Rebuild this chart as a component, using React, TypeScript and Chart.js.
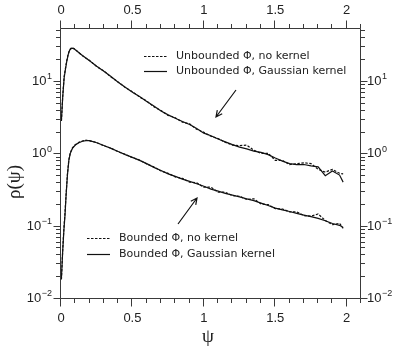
import React, { useEffect, useRef } from "react";
import { Chart, registerables } from "chart.js";
Chart.register(...registerables);

// ---- data ----
const xUnb = [0.003, 0.012, 0.022, 0.03, 0.04, 0.05, 0.06, 0.075, 0.09, 0.1, 0.15, 0.2, 0.25, 0.3, 0.35, 0.4, 0.45, 0.5, 0.55, 0.6, 0.65, 0.7, 0.75, 0.8, 0.85, 0.9, 0.95, 1.0, 1.05, 1.1, 1.15, 1.2, 1.25, 1.3, 1.35, 1.4, 1.45, 1.5, 1.55, 1.6, 1.65, 1.7, 1.75, 1.8, 1.85, 1.9, 1.95, 1.975];
const unbGauss = [2.9, 6, 11, 14, 18.5, 23, 26.5, 28.5, 28, 27, 22.5, 19, 16, 13.6, 11.5, 9.6, 8.2, 7.0, 6.1, 5.2, 4.5, 3.85, 3.4, 3.05, 2.75, 2.5, 2.2, 1.9, 1.75, 1.58, 1.44, 1.32, 1.22, 1.15, 1.07, 1.03, 0.96, 0.86, 0.78, 0.72, 0.7, 0.7, 0.67, 0.65, 0.49, 0.57, 0.5, 0.4];
const unbNoKernel = [2.8, 6.2, 11.5, 14.5, 19, 23.5, 27, 29, 28, 27.2, 22.3, 19.2, 15.8, 13.8, 11.3, 9.7, 8.1, 7.1, 6.0, 5.3, 4.4, 3.9, 3.35, 3.1, 2.7, 2.55, 2.15, 1.95, 1.72, 1.6, 1.42, 1.3, 1.28, 1.3, 1.1, 1.0, 1.0, 0.8, 0.8, 0.7, 0.72, 0.74, 0.72, 0.6, 0.55, 0.6, 0.53, 0.52];

const xBnd = [0.003, 0.012, 0.02, 0.028, 0.035, 0.045, 0.055, 0.065, 0.08, 0.1, 0.125, 0.15, 0.175, 0.2, 0.25, 0.3, 0.35, 0.4, 0.45, 0.5, 0.55, 0.6, 0.65, 0.7, 0.75, 0.8, 0.85, 0.9, 0.95, 1.0, 1.05, 1.1, 1.15, 1.2, 1.25, 1.3, 1.35, 1.4, 1.45, 1.5, 1.55, 1.6, 1.65, 1.7, 1.75, 1.8, 1.85, 1.9, 1.95, 1.975];
const bndGauss = [0.019, 0.045, 0.085, 0.14, 0.25, 0.5, 0.8, 1.0, 1.17, 1.3, 1.4, 1.47, 1.5, 1.5, 1.4, 1.28, 1.17, 1.06, 0.96, 0.88, 0.8, 0.72, 0.64, 0.58, 0.52, 0.48, 0.44, 0.41, 0.38, 0.35, 0.32, 0.3, 0.28, 0.265, 0.25, 0.235, 0.222, 0.205, 0.19, 0.175, 0.165, 0.157, 0.148, 0.14, 0.133, 0.126, 0.117, 0.107, 0.101, 0.094];
const bndNoKernel = [0.018, 0.047, 0.09, 0.15, 0.26, 0.52, 0.82, 1.02, 1.19, 1.32, 1.42, 1.48, 1.52, 1.49, 1.41, 1.27, 1.18, 1.05, 0.97, 0.87, 0.81, 0.71, 0.65, 0.57, 0.53, 0.47, 0.45, 0.4, 0.39, 0.34, 0.34, 0.29, 0.29, 0.26, 0.255, 0.23, 0.235, 0.2, 0.195, 0.172, 0.17, 0.155, 0.155, 0.138, 0.135, 0.145, 0.118, 0.103, 0.108, 0.092];

const xTickValues = [0, 0.5, 1, 1.5, 2];
const xTickLabels = ["0", "0.5", "1", "1.5", "2"];
const yDecades = [-2, -1, 0, 1];
const yExpLabels = ["\u22122", "\u22121", "0", "1"];
const legendUnb = ["Unbounded \u03A6, no kernel", "Unbounded \u03A6, Gaussian kernel"];
const legendBnd = ["Bounded \u03A6, no kernel", "Bounded \u03A6, Gaussian kernel"];

const X_MIN = 0, X_MAX = 2.1, Y_MIN = 0.01, Y_MAX = 54;

function pts(xs: number[], ys: number[]) {
  return xs.map((x, i) => ({ x, y: ys[i] }));
}

const LABEL_FONT = "'Liberation Sans', Arial, sans-serif";
const LEG_FONT = "'DejaVu Sans', sans-serif";
const SERIF = "'Liberation Serif', 'DejaVu Serif', serif";

const framePlugin = {
  id: "frame",
  afterDatasetsDraw(chart: any) {
    const ctx: CanvasRenderingContext2D = chart.ctx;
    const xs = chart.scales.x;
    const ys = chart.scales.y;
    const a = chart.chartArea;
    const L = Math.round(a.left) - 0.5;
    const R = Math.round(a.right) - 0.5;
    const T = Math.round(a.top) + 0.5;
    const B = Math.round(a.bottom) + 0.5;
    ctx.save();
    ctx.strokeStyle = "#3a3a3a";
    ctx.lineWidth = 1;
    ctx.setLineDash([]);
    ctx.beginPath();
    ctx.rect(L, T, R - L, B - T);
    ctx.stroke();

    // x ticks (top & bottom)
    ctx.beginPath();
    for (let i = 0; i <= 21; i++) {
      const v = i / 10;
      const major = i % 5 === 0;
      const len = major ? 8 : 4.5;
      const px = Math.round(xs.getPixelForValue(v)) - 0.5;
      ctx.moveTo(px, B); ctx.lineTo(px, B + len);
      ctx.moveTo(px, T); ctx.lineTo(px, T - len);
    }
    // y ticks (left & right)
    for (const d of yDecades) {
      for (let m = 1; m <= 9; m++) {
        const v = m * Math.pow(10, d);
        if (v < Y_MIN - 1e-12 || v > Y_MAX) continue;
        const major = m === 1;
        const len = major ? 7 : 4.5;
        const py = Math.round(ys.getPixelForValue(v)) + 0.5;
        ctx.moveTo(L, py); ctx.lineTo(L - len, py);
        ctx.moveTo(R, py); ctx.lineTo(R + len, py);
      }
    }
    ctx.stroke();

    // x labels
    ctx.fillStyle = "#222";
    ctx.font = `13px ${LABEL_FONT}`;
    ctx.textAlign = "center";
    ctx.textBaseline = "middle";
    xTickValues.forEach((v, i) => {
      const px = xs.getPixelForValue(v);
      ctx.fillText(xTickLabels[i], px, 10.5);
      ctx.fillText(xTickLabels[i], px, 318.5);
    });

    // y labels with superscript
    yDecades.forEach((d, i) => {
      const py = ys.getPixelForValue(Math.pow(10, d));
      ctx.font = `13px ${LABEL_FONT}`;
      const wb = ctx.measureText("10").width;
      ctx.font = `9px ${LABEL_FONT}`;
      const we = ctx.measureText(yExpLabels[i]).width;
      const drawAt = (x0: number) => {
        ctx.textAlign = "left";
        ctx.textBaseline = "middle";
        ctx.font = `13px ${LABEL_FONT}`;
        ctx.fillText("10", x0, py + 0.5);
        ctx.font = `9px ${LABEL_FONT}`;
        ctx.fillText(yExpLabels[i], x0 + wb + 0.5, py - 4);
      };
      drawAt(52 - wb - we - 0.5);
      drawAt(367);
    });

    // axis titles
    ctx.fillStyle = "#222";
    ctx.font = `19px ${SERIF}`;
    ctx.textAlign = "center";
    ctx.textBaseline = "middle";
    ctx.fillText("\u03C8", (a.left + a.right) / 2 - 3, 337);
    ctx.save();
    ctx.translate(15, 182);
    ctx.rotate(-Math.PI / 2);
    ctx.fillText("\u03C1(\u03C8)", 0, 0);
    ctx.restore();

    // legends
    const legend = (x1: number, x2: number, y1: number, y2: number, tx: number, texts: string[]) => {
      ctx.strokeStyle = "#111";
      ctx.lineWidth = 1.2;
      ctx.setLineDash([2.5, 1.5]);
      ctx.beginPath(); ctx.moveTo(x1, y1); ctx.lineTo(x2, y1); ctx.stroke();
      ctx.setLineDash([]);
      ctx.beginPath(); ctx.moveTo(x1, y2); ctx.lineTo(x2, y2); ctx.stroke();
      ctx.fillStyle = "#222";
      ctx.font = `11px ${LEG_FONT}`;
      ctx.textAlign = "left";
      ctx.textBaseline = "middle";
      ctx.fillText(texts[0], tx, y1);
      ctx.fillText(texts[1], tx, y2);
    };
    legend(144, 167, 56.5, 71.5, 176, legendUnb);
    legend(87, 110, 238.5, 254.5, 119, legendBnd);

    // arrows
    const arrow = (x0: number, y0: number, x1: number, y1: number) => {
      ctx.strokeStyle = "#111";
      ctx.lineWidth = 1.2;
      ctx.setLineDash([]);
      ctx.beginPath();
      ctx.moveTo(x0, y0); ctx.lineTo(x1, y1);
      const ang = Math.atan2(y1 - y0, x1 - x0);
      const h = 7, sp = 0.45;
      ctx.moveTo(x1 - h * Math.cos(ang - sp), y1 - h * Math.sin(ang - sp));
      ctx.lineTo(x1, y1);
      ctx.lineTo(x1 - h * Math.cos(ang + sp), y1 - h * Math.sin(ang + sp));
      ctx.stroke();
    };
    arrow(236, 90, 216, 117);
    arrow(178, 224, 197, 198);
    ctx.restore();
  },
};

export default function App() {
  const ref = useRef<HTMLCanvasElement>(null);
  useEffect(() => {
    document.body.style.margin = "0";
    const line = (data: any, dashed: boolean) => ({
      data,
      borderColor: "#111",
      borderWidth: 1.2,
      borderDash: dashed ? [2.5, 1.5] : [],
      pointRadius: 0,
      fill: false,
      tension: 0,
    });
    const chart = new Chart(ref.current as HTMLCanvasElement, {
      type: "line",
      data: {
        datasets: [
          { label: legendUnb[0], ...line(pts(xUnb, unbNoKernel), true) },
          { label: legendUnb[1], ...line(pts(xUnb, unbGauss), false) },
          { label: legendBnd[0], ...line(pts(xBnd, bndNoKernel), true) },
          { label: legendBnd[1], ...line(pts(xBnd, bndGauss), false) },
        ] as any,
      },
      options: {
        animation: false,
        responsive: false,
        layout: { padding: { left: 61, right: 38, top: 28, bottom: 51 } },
        plugins: { legend: { display: false }, tooltip: { enabled: false } },
        scales: {
          x: { type: "linear", min: X_MIN, max: X_MAX, display: false },
          y: { type: "logarithmic", min: Y_MIN, max: Y_MAX, display: false },
        },
      },
      plugins: [framePlugin],
    });
    return () => chart.destroy();
  }, []);
  return <canvas ref={ref} width={399} height={349} style={{ display: "block" }} />;
}
